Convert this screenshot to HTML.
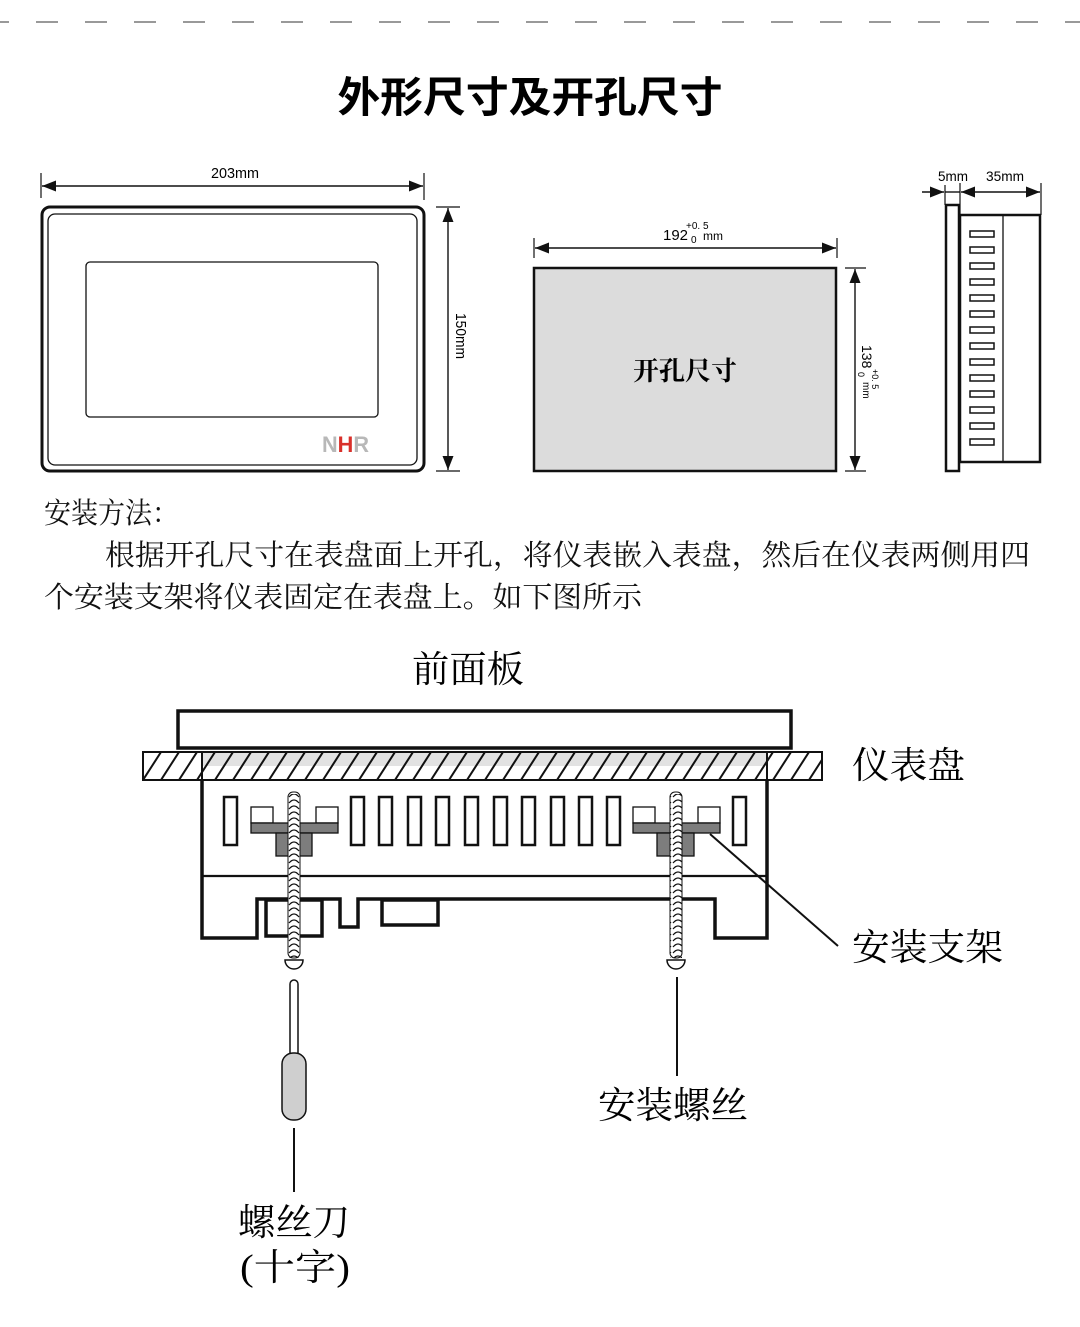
<!DOCTYPE html>
<html><head><meta charset="utf-8"><style>
html,body{margin:0;padding:0;background:#fff;}
svg{display:block;}
.cj{font-family:"Liberation Sans","Noto Sans CJK SC",sans-serif;}
.sr{font-family:"Liberation Serif","Noto Serif CJK SC",serif;}
.ar{font-family:"Liberation Sans",sans-serif;}
</style></head><body>
<svg width="1080" height="1327" viewBox="0 0 1080 1327" xmlns="http://www.w3.org/2000/svg">
<defs>
<pattern id="hatch" width="18" height="28" patternUnits="userSpaceOnUse" x="143" y="752">
<line x1="0" y1="28" x2="18" y2="0" stroke="#111" stroke-width="2"/>
<line x1="-18" y1="28" x2="0" y2="0" stroke="#111" stroke-width="2"/>
<line x1="18" y1="28" x2="36" y2="0" stroke="#111" stroke-width="2"/>
</pattern>
<pattern id="thread" width="12" height="6" patternUnits="userSpaceOnUse" y="0">
<path d="M1,5 Q6,-1 11,5" fill="none" stroke="#111" stroke-width="1.2"/>
</pattern>
<marker id="ae" viewBox="0 0 14 12" refX="14" refY="6" markerWidth="14" markerHeight="12" markerUnits="userSpaceOnUse" orient="auto"><path d="M0,0.5 L14,6 L0,11.5z" fill="#111"/></marker>
<marker id="as" viewBox="0 0 14 12" refX="0" refY="6" markerWidth="14" markerHeight="12" markerUnits="userSpaceOnUse" orient="auto"><path d="M14,0.5 L0,6 L14,11.5z" fill="#111"/></marker>
</defs>

<line x1="0" y1="22" x2="1080" y2="22" stroke="#999" stroke-width="2" stroke-dasharray="22 27" stroke-dashoffset="13"/>

<text x="530" y="112" text-anchor="middle" class="cj" font-size="42" font-weight="bold" textLength="385" lengthAdjust="spacingAndGlyphs">外形尺寸及开孔尺寸</text>

<!-- front view -->
<line x1="41" y1="173" x2="41" y2="198" stroke="#111" stroke-width="1.2"/>
<line x1="424" y1="173" x2="424" y2="200" stroke="#111" stroke-width="1.2"/>
<line x1="42" y1="186" x2="423" y2="186" stroke="#111" stroke-width="1.4" marker-start="url(#as)" marker-end="url(#ae)"/>
<text x="235" y="178" text-anchor="middle" class="ar" font-size="15" textLength="48" lengthAdjust="spacingAndGlyphs">203mm</text>
<rect x="42" y="207" width="382" height="264" rx="8" fill="#fff" stroke="#111" stroke-width="3"/>
<rect x="48" y="214" width="369" height="251" rx="7" fill="none" stroke="#111" stroke-width="1.3"/>
<rect x="86" y="262" width="292" height="155" rx="4" fill="none" stroke="#111" stroke-width="1.3"/>
<text x="322" y="452" class="ar" font-size="22" font-weight="bold" textLength="47" lengthAdjust="spacingAndGlyphs"><tspan fill="#b8b8b8">N</tspan><tspan fill="#d9302a">H</tspan><tspan fill="#b8b8b8">R</tspan></text>
<line x1="436" y1="207" x2="460" y2="207" stroke="#111" stroke-width="1.2"/>
<line x1="436" y1="471" x2="460" y2="471" stroke="#111" stroke-width="1.2"/>
<line x1="448" y1="208" x2="448" y2="470" stroke="#111" stroke-width="1.4" marker-start="url(#as)" marker-end="url(#ae)"/>
<text transform="translate(456,336) rotate(90)" text-anchor="middle" class="ar" font-size="15" textLength="46" lengthAdjust="spacingAndGlyphs">150mm</text>

<!-- cutout -->
<line x1="534" y1="238" x2="534" y2="258" stroke="#111" stroke-width="1.2"/>
<line x1="837" y1="238" x2="837" y2="258" stroke="#111" stroke-width="1.2"/>
<line x1="535" y1="248" x2="836" y2="248" stroke="#111" stroke-width="1.4" marker-start="url(#as)" marker-end="url(#ae)"/>
<text x="663" y="240" class="ar" font-size="15">192</text>
<text x="686" y="229" class="ar" font-size="10">+0. 5</text>
<text x="691" y="243" class="ar" font-size="10">0</text>
<text x="703" y="240" class="ar" font-size="12">mm</text>
<rect x="534" y="268" width="302" height="203" fill="#dcdcdc" stroke="#111" stroke-width="2.5"/>
<text x="685" y="380" text-anchor="middle" class="sr" font-size="26" font-weight="bold">开孔尺寸</text>
<line x1="845" y1="268" x2="866" y2="268" stroke="#111" stroke-width="1.2"/>
<line x1="845" y1="471" x2="866" y2="471" stroke="#111" stroke-width="1.2"/>
<line x1="855" y1="269" x2="855" y2="470" stroke="#111" stroke-width="1.4" marker-start="url(#as)" marker-end="url(#ae)"/>
<g transform="translate(862,345) rotate(90)">
<text x="0" y="0" class="ar" font-size="14">138</text>
<text x="24" y="-10" class="ar" font-size="9">+0. 5</text>
<text x="27" y="4" class="ar" font-size="9">0</text>
<text x="37" y="-1" class="ar" font-size="10">mm</text>
</g>

<!-- side view -->
<line x1="945" y1="185" x2="945" y2="205" stroke="#111" stroke-width="1.2"/>
<line x1="960" y1="183" x2="960" y2="215" stroke="#111" stroke-width="1.2"/>
<line x1="1041" y1="183" x2="1041" y2="215" stroke="#111" stroke-width="1.2"/>
<line x1="922" y1="192" x2="944" y2="192" stroke="#111" stroke-width="1.4" marker-end="url(#ae)"/>
<line x1="945" y1="192" x2="960" y2="192" stroke="#111" stroke-width="1.4"/>
<line x1="961" y1="192" x2="1040" y2="192" stroke="#111" stroke-width="1.4" marker-start="url(#as)" marker-end="url(#ae)"/>
<text x="953" y="181" text-anchor="middle" class="ar" font-size="14" textLength="30" lengthAdjust="spacingAndGlyphs">5mm</text>
<text x="1005" y="181" text-anchor="middle" class="ar" font-size="14" textLength="38" lengthAdjust="spacingAndGlyphs">35mm</text>
<rect x="946" y="205" width="13" height="266" fill="#fff" stroke="#111" stroke-width="2.5"/>
<rect x="960" y="215" width="80" height="247" fill="#fff" stroke="#111" stroke-width="2.5"/>
<line x1="1003" y1="215" x2="1003" y2="462" stroke="#111" stroke-width="1.3"/>
<g fill="none" stroke="#111" stroke-width="1.5">
<rect x="970" y="231" width="24" height="6"/><rect x="970" y="247" width="24" height="6"/><rect x="970" y="263" width="24" height="6"/><rect x="970" y="279" width="24" height="6"/><rect x="970" y="295" width="24" height="6"/><rect x="970" y="311" width="24" height="6"/><rect x="970" y="327" width="24" height="6"/><rect x="970" y="343" width="24" height="6"/><rect x="970" y="359" width="24" height="6"/><rect x="970" y="375" width="24" height="6"/><rect x="970" y="391" width="24" height="6"/><rect x="970" y="407" width="24" height="6"/><rect x="970" y="423" width="24" height="6"/><rect x="970" y="439" width="24" height="6"/>
</g>

<g class="sr" font-size="29" fill="#111">
<text x="44" y="523" textLength="135" lengthAdjust="spacingAndGlyphs">安装方法：</text>
<text x="105" y="565" textLength="925" lengthAdjust="spacingAndGlyphs">根据开孔尺寸在表盘面上开孔，将仪表嵌入表盘，然后在仪表两侧用四</text>
<text x="44" y="607" textLength="598" lengthAdjust="spacingAndGlyphs">个安装支架将仪表固定在表盘上。如下图所示</text>
</g>

<!-- install diagram -->
<text x="412" y="682" class="sr" font-size="37" textLength="112" lengthAdjust="spacingAndGlyphs">前面板</text>
<rect x="178" y="711" width="613" height="37" fill="#fff" stroke="#111" stroke-width="3.5"/>
<rect x="143" y="752" width="679" height="28" fill="#fff" stroke="#111" stroke-width="2"/>
<rect x="202" y="752" width="566" height="14" fill="#e2e2e2"/>
<rect x="143" y="752" width="679" height="28" fill="url(#hatch)" stroke="#111" stroke-width="2"/>
<line x1="202" y1="752" x2="202" y2="780" stroke="#111" stroke-width="2"/>
<line x1="767" y1="752" x2="767" y2="780" stroke="#111" stroke-width="2"/>
<path d="M202,780 L202,938 L257,938 L257,899 L340,899 L340,927 L358,927 L358,899 L715,899 L715,938 L767,938 L767,780" fill="none" stroke="#111" stroke-width="3.5"/>
<line x1="202" y1="876" x2="767" y2="876" stroke="#111" stroke-width="2.2"/>
<rect x="266" y="900" width="56" height="36" fill="none" stroke="#111" stroke-width="3.5"/>
<rect x="382" y="900" width="56" height="25" fill="none" stroke="#111" stroke-width="3.5"/>
<g fill="#fff" stroke="#111" stroke-width="2.5">
<rect x="224" y="797" width="13" height="48"/>
<rect x="351" y="797" width="13" height="48"/><rect x="379" y="797" width="13" height="48"/><rect x="408" y="797" width="13" height="48"/><rect x="436" y="797" width="13" height="48"/><rect x="465" y="797" width="13" height="48"/><rect x="494" y="797" width="13" height="48"/><rect x="522" y="797" width="13" height="48"/><rect x="551" y="797" width="13" height="48"/><rect x="579" y="797" width="13" height="48"/><rect x="607" y="797" width="13" height="48"/>
<rect x="733" y="797" width="13" height="48"/>
</g>
<g stroke="#111" stroke-width="1.3">
<rect x="251" y="807" width="22" height="16" fill="#fff"/><rect x="316" y="807" width="22" height="16" fill="#fff"/>
<rect x="251" y="823" width="87" height="10" fill="#7d7d7d"/>
<rect x="276" y="833" width="36" height="23" fill="#7d7d7d"/>
<rect x="633" y="807" width="22" height="16" fill="#fff"/><rect x="698" y="807" width="22" height="16" fill="#fff"/>
<rect x="633" y="823" width="87" height="10" fill="#7d7d7d"/>
<rect x="657" y="833" width="37" height="23" fill="#7d7d7d"/>
</g>
<rect x="288" y="792" width="12" height="166" rx="5" fill="#fff" stroke="#111" stroke-width="1"/>
<rect x="288" y="794" width="12" height="164" fill="url(#thread)"/>
<path d="M285,960 L303,960 A9,9 0 0 1 285,960z" fill="#fff" stroke="#111" stroke-width="1.5"/>
<rect x="670" y="792" width="12" height="166" rx="5" fill="#fff" stroke="#111" stroke-width="1"/>
<rect x="670" y="794" width="12" height="164" fill="url(#thread)"/>
<path d="M667,960 L685,960 A9,9 0 0 1 667,960z" fill="#fff" stroke="#111" stroke-width="1.5"/>
<line x1="710" y1="834" x2="838" y2="946" stroke="#111" stroke-width="2"/>
<text x="852" y="778" class="sr" font-size="37" textLength="113" lengthAdjust="spacingAndGlyphs">仪表盘</text>
<text x="852" y="960" class="sr" font-size="37" textLength="151" lengthAdjust="spacingAndGlyphs">安装支架</text>
<rect x="290" y="980" width="8" height="80" rx="4" fill="#fff" stroke="#111" stroke-width="1.5"/>
<rect x="282" y="1053" width="24" height="67" rx="11" fill="#cfcfcf" stroke="#111" stroke-width="1.5"/>
<line x1="294" y1="1128" x2="294" y2="1192" stroke="#111" stroke-width="2"/>
<line x1="677" y1="977" x2="677" y2="1076" stroke="#111" stroke-width="2"/>
<text x="598" y="1118" class="sr" font-size="37" textLength="150" lengthAdjust="spacingAndGlyphs">安装螺丝</text>
<text x="238" y="1235" class="sr" font-size="37" textLength="112" lengthAdjust="spacingAndGlyphs">螺丝刀</text>
<text x="240" y="1280" class="sr" font-size="37" textLength="110" lengthAdjust="spacingAndGlyphs">(十字)</text>
</svg>
</body></html>
